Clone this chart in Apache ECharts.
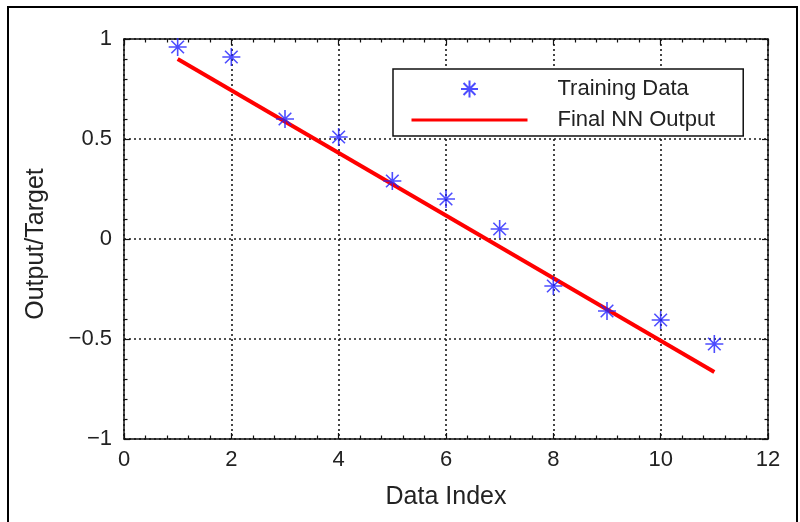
<!DOCTYPE html>
<html>
<head>
<meta charset="utf-8">
<script src="https://cdn.jsdelivr.net/npm/echarts@6/dist/echarts.min.js"></script>
<style>
html,body{margin:0;padding:0;background:#fff;}
#chart{width:800px;height:522px;}
</style>
</head>
<body>
<div id="chart"></div>
<script>
// ---- data ----
var trainX = [1, 2, 3, 4, 5, 6, 7, 8, 9, 10, 11];
var trainY = [0.96, 0.91, 0.60, 0.51, 0.29, 0.20, 0.05, -0.235, -0.36, -0.405, -0.525];
var nnX = [1, 11];
var nnY = [0.90, -0.665];
var xRange = [0, 12];
var xStep = 2;
var yRange = [-1, 1];
var yStep = 0.5;
var seriesNames = ['Training Data', 'Final NN Output'];
var xTitle = 'Data Index';
var yTitle = 'Output/Target';

var FONT = 'Liberation Sans';
var starPath = 'path://M50,0 L50,100 M0,50 L100,50 M15,15 L85,85 M85,15 L15,85';

function zip(a, b) { return a.map(function (v, i) { return [v, b[i]]; }); }
function fmt(v) { return String(v).replace('-', '\u2212'); }

var tickCommon = { show: true, inside: true, length: 6, lineStyle: { color: '#111', width: 1.2 } };
var minorCommon = { show: true, splitNumber: 5, length: 3.5, lineStyle: { color: '#111', width: 1.2 } };
var lineCommon = { show: true, onZero: false, lineStyle: { color: '#111', width: 1.5 } };
var gridLine = { show: true, lineStyle: { color: '#1a1a1a', width: 1.6, type: [2, 3] } };

var chart = echarts.init(document.getElementById('chart'), null, { renderer: 'canvas' });
chart.setOption({
  backgroundColor: '#fff',
  animation: false,
  graphic: [{
    type: 'rect', shape: { x: 8, y: 7, width: 789, height: 540 },
    style: { fill: 'none', stroke: '#000', lineWidth: 2 }, silent: true, z: 100
  }],
  grid: { left: 124, right: 32, top: 39, bottom: 83 },
  legend: {
    left: 393, top: 69, orient: 'vertical',
    backgroundColor: '#fff', borderColor: '#111', borderWidth: 1.5,
    padding: [9, 28, 5, 17], itemGap: 9, itemWidth: 116, itemHeight: 17,
    lineStyle: { width: 3 },
    textStyle: { fontFamily: FONT, fontSize: 22, color: '#222', lineHeight: 17, padding: [0, 0, 0, 25] },
    data: [
      { name: seriesNames[0], icon: starPath },
      { name: seriesNames[1] }
    ]
  },
  xAxis: [{
    type: 'value', min: xRange[0], max: xRange[1], interval: xStep, position: 'bottom',
    axisLine: lineCommon, axisTick: tickCommon, minorTick: minorCommon,
    splitLine: gridLine,
    axisLabel: { fontFamily: FONT, fontSize: 22, color: '#222', margin: 10, formatter: fmt },
    name: xTitle, nameLocation: 'middle', nameGap: 46,
    nameTextStyle: { fontFamily: FONT, fontSize: 25, color: '#222' }
  }, {
    type: 'value', min: xRange[0], max: xRange[1], interval: xStep, position: 'top',
    axisLine: lineCommon, axisTick: tickCommon, minorTick: minorCommon,
    splitLine: { show: false }, axisLabel: { show: false }
  }],
  yAxis: [{
    type: 'value', min: yRange[0], max: yRange[1], interval: yStep, position: 'left',
    axisLine: lineCommon, axisTick: tickCommon, minorTick: minorCommon,
    splitLine: gridLine,
    axisLabel: { fontFamily: FONT, fontSize: 22, color: '#222', margin: 12, formatter: fmt },
    name: yTitle, nameLocation: 'middle', nameGap: 75,
    nameTextStyle: { fontFamily: FONT, fontSize: 25, color: '#222', padding: [0, 10, 0, 0] }
  }, {
    type: 'value', min: yRange[0], max: yRange[1], interval: yStep, position: 'right',
    axisLine: lineCommon, axisTick: tickCommon, minorTick: minorCommon,
    splitLine: { show: false }, axisLabel: { show: false }
  }],
  series: [{
    name: seriesNames[1], type: 'line', data: zip(nnX, nnY),
    showSymbol: false, symbol: 'none',
    lineStyle: { color: '#ff0000', width: 4 }, itemStyle: { color: 'rgba(255,0,0,0)' }, z: 2
  }, {
    name: seriesNames[0], type: 'scatter', data: zip(trainX, trainY),
    symbol: starPath, symbolSize: 18,
    itemStyle: { color: '#2020ff', borderColor: '#2020ff', borderWidth: 1.6 }, z: 3
  }]
});
</script>
</body>
</html>
